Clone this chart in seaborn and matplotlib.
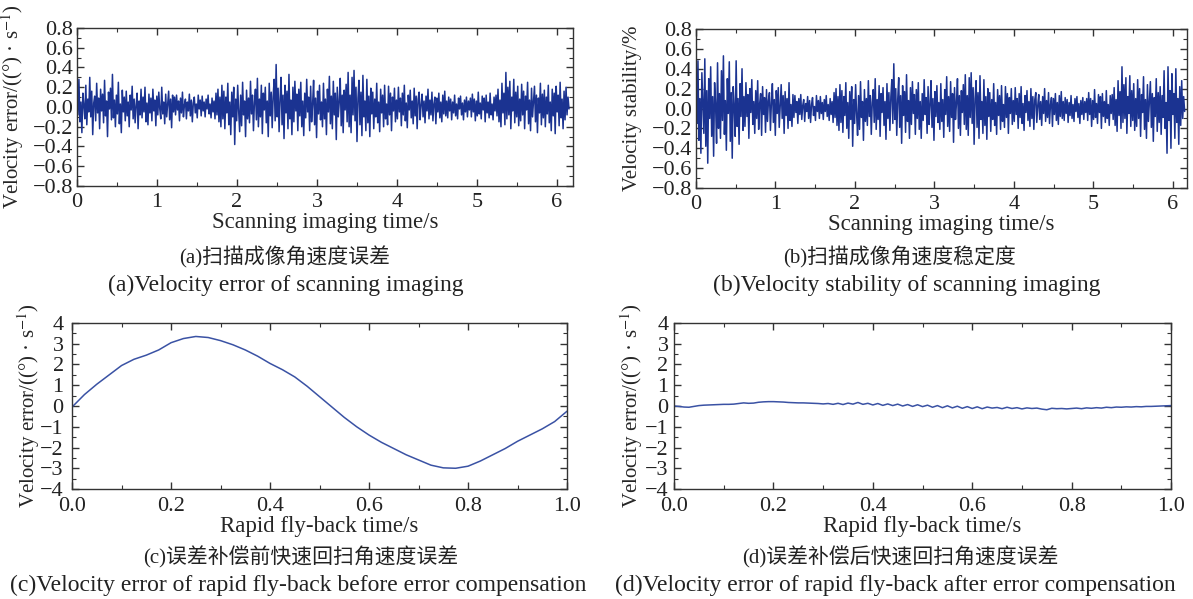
import numpy as np
import pandas as pd
import seaborn as sns
import matplotlib.pyplot as plt
from matplotlib.ticker import MultipleLocator

# (a) velocity error during scanning imaging, deg/s
err_scan = [
    0.12, -0.08, 0.28, -0.15, 0.05, -0.26, 0.14, 0.02, -0.12, 0.22, -0.18, 0.08, -0.05, 0.30, -0.10, 0.16, -0.28, 0.04, 0.11, -0.14, 0.24, -0.06, 0.09, -0.22, 0.18,
    -0.04, 0.13, -0.16, 0.27, -0.09, 0.06, -0.30, 0.15, -0.02, 0.19, -0.13, 0.33, -0.11, 0.07, -0.20, 0.12, -0.07, 0.25, -0.17, 0.03, -0.26, 0.17, -0.05, 0.10, -0.14,
    0.16, -0.09, 0.05, -0.20, 0.12, -0.03, 0.21, -0.12, 0.08, -0.16, 0.02, 0.14, -0.22, 0.06, -0.08, 0.18, -0.11, 0.10, -0.05, 0.20, -0.15, 0.04, -0.18, 0.13, -0.06,
    0.09, -0.14, 0.18, -0.04, 0.07, -0.19, 0.11, -0.08, 0.15, -0.02, -0.12, 0.20, -0.07, 0.05, -0.17, 0.13, -0.10, 0.03, 0.16, -0.13, 0.08, -0.21, 0.12, -0.05, 0.10,
    -0.08, 0.12, -0.03, 0.06, -0.14, 0.09, -0.06, 0.15, -0.10, 0.02, 0.08, -0.12, 0.05, -0.04, 0.13, -0.09, 0.07, -0.15, 0.04, 0.10, -0.06, 0.03, -0.11, 0.12, -0.02,
    0.07, -0.09, 0.11, -0.04, 0.05, -0.10, 0.08, -0.02, 0.12, -0.07, 0.03, -0.11, 0.09, -0.05, 0.06, -0.12, 0.14, -0.08, 0.18, -0.15, 0.10, -0.20, 0.22, -0.12, 0.16,
    -0.22, 0.10, -0.06, 0.24, -0.18, 0.05, -0.28, 0.15, -0.10, 0.20, -0.38, 0.08, -0.14, 0.22, -0.04, -0.25, 0.12, -0.19, 0.25, -0.08, 0.06, -0.30, 0.17, -0.12, 0.09,
    -0.16, 0.26, -0.07, 0.12, -0.24, 0.05, 0.18, -0.13, 0.29, -0.20, 0.08, -0.10, 0.22, -0.27, 0.14, -0.03, 0.20, -0.16, 0.06, -0.30, 0.24, -0.09, 0.15, -0.21, 0.11,
    0.28, -0.14, 0.43, -0.10, 0.19, -0.25, 0.08, 0.30, -0.18, 0.12, -0.32, 0.22, -0.06, 0.16, -0.22, 0.33, -0.12, 0.07, -0.28, 0.20, -0.15, 0.26, -0.04, 0.13, -0.24,
    0.18, -0.09, 0.25, -0.20, 0.06, -0.29, 0.14, -0.11, 0.28, -0.05, 0.10, -0.24, 0.21, -0.15, 0.03, 0.27, -0.18, 0.09, -0.31, 0.16, -0.07, 0.22, -0.13, 0.05, -0.20,
    0.24, -0.12, 0.08, -0.28, 0.18, -0.05, 0.31, -0.17, 0.11, -0.22, 0.26, -0.08, 0.14, -0.33, 0.20, -0.10, 0.05, 0.29, -0.19, 0.12, -0.26, 0.17, -0.03, 0.23, -0.15,
    0.35, -0.20, 0.12, -0.26, 0.30, -0.08, 0.37, -0.14, 0.20, -0.35, 0.09, 0.27, -0.18, 0.15, -0.29, 0.32, -0.10, 0.06, -0.24, 0.28, -0.16, 0.11, -0.30, 0.19, -0.07,
    0.15, -0.22, 0.08, -0.10, 0.24, -0.16, 0.05, -0.25, 0.18, -0.06, 0.12, -0.20, 0.22, -0.12, 0.03, -0.18, 0.21, -0.08, 0.14, -0.24, 0.10, -0.04, 0.19, -0.15, 0.07,
    -0.12, 0.20, -0.05, 0.09, -0.19, 0.14, -0.08, 0.22, -0.14, 0.04, -0.21, 0.12, -0.03, 0.17, -0.11, 0.06, -0.17, 0.19, -0.09, 0.11, -0.22, 0.08, 0.15, -0.13, 0.02,
    0.13, -0.10, 0.06, -0.16, 0.11, -0.04, 0.18, -0.12, 0.07, -0.08, 0.15, -0.14, 0.03, 0.10, -0.17, 0.09, -0.05, 0.14, -0.11, 0.05, -0.15, 0.12, -0.07, 0.16, -0.09,
    0.06, -0.11, 0.10, -0.04, 0.08, -0.13, 0.05, -0.06, 0.12, -0.09, 0.03, -0.12, 0.09, -0.02, 0.11, -0.08, 0.04, -0.13, 0.07, -0.05, 0.10, -0.10, 0.06, -0.03, 0.09,
    -0.10, 0.13, -0.05, 0.08, -0.14, 0.06, -0.09, 0.15, -0.07, 0.04, -0.12, 0.11, -0.03, 0.09, -0.15, 0.12, -0.06, 0.05, -0.11, 0.14, -0.08, 0.03, -0.13, 0.10, -0.04,
    0.12, -0.09, 0.18, -0.15, 0.07, -0.20, 0.24, -0.06, 0.14, -0.18, 0.35, -0.12, 0.20, -0.08, 0.26, -0.22, 0.10, -0.04, 0.28, -0.16, 0.15, -0.10, 0.21, -0.19, 0.08,
    -0.14, 0.23, -0.08, 0.16, -0.22, 0.11, -0.03, 0.25, -0.17, 0.07, -0.24, 0.19, -0.10, 0.05, 0.21, -0.15, 0.12, -0.26, 0.09, -0.06, 0.24, -0.18, 0.13, -0.11, 0.17,
    -0.20, 0.10, -0.07, 0.22, -0.16, 0.05, -0.24, 0.18, -0.09, 0.14, -0.27, 0.21, -0.05, 0.12, -0.19, 0.25, -0.11, 0.08, -0.22, 0.16, -0.13, 0.20, -0.08, 0.10, -0.02,
]

# (b) velocity stability during scanning imaging, %
stab_scan = [
    0.20, -0.15, 0.48, -0.32, 0.10, -0.45, 0.36, 0.05, -0.25, 0.50, -0.38, 0.18, -0.55, 0.30, -0.10, 0.42, -0.28, 0.12, -0.48, 0.26, 0.04, -0.35, 0.46, -0.20, 0.15,
    -0.30, 0.38, -0.12, 0.53, -0.26, 0.08, -0.42, 0.30, -0.05, 0.47, -0.33, 0.16, -0.50, 0.22, 0.02, -0.28, 0.48, -0.18, 0.10, -0.36, 0.25, -0.08, 0.40, -0.22, 0.12,
    -0.18, 0.26, -0.08, 0.14, -0.30, 0.20, -0.04, 0.29, -0.16, 0.07, -0.25, 0.18, -0.10, 0.28, -0.21, 0.05, 0.15, -0.27, 0.22, -0.06, 0.11, -0.24, 0.19, -0.13, 0.08,
    0.16, -0.22, 0.06, 0.25, -0.14, 0.09, -0.27, 0.18, -0.05, 0.21, -0.19, 0.03, 0.24, -0.10, 0.13, -0.25, 0.17, -0.07, 0.10, -0.20, 0.26, -0.12, 0.04, -0.18, 0.14,
    -0.09, 0.13, -0.04, 0.07, -0.15, 0.10, -0.06, 0.14, -0.11, 0.03, 0.09, -0.13, 0.05, -0.03, 0.12, -0.10, 0.08, -0.14, 0.04, 0.11, -0.07, 0.02, -0.12, 0.13, -0.03,
    0.08, -0.10, 0.12, -0.05, 0.06, -0.11, 0.09, -0.03, 0.13, -0.08, 0.04, -0.12, 0.10, -0.06, 0.07, -0.14, 0.16, -0.09, 0.20, -0.17, 0.12, -0.22, 0.24, -0.14, 0.18,
    -0.24, 0.12, -0.07, 0.26, -0.20, 0.06, -0.30, 0.17, -0.11, 0.22, -0.38, 0.09, -0.15, 0.24, -0.05, -0.27, 0.13, -0.21, 0.27, -0.09, 0.07, -0.32, 0.19, -0.13, 0.10,
    -0.17, 0.28, -0.08, 0.13, -0.26, 0.06, 0.19, -0.14, 0.30, -0.21, 0.09, -0.11, 0.23, -0.28, 0.15, -0.04, 0.21, -0.17, 0.07, -0.31, 0.25, -0.10, 0.16, -0.22, 0.12,
    0.29, -0.15, 0.45, -0.11, 0.20, -0.27, 0.09, 0.31, -0.19, 0.13, -0.35, 0.23, -0.07, 0.17, -0.24, 0.34, -0.13, 0.08, -0.30, 0.21, -0.16, 0.27, -0.05, 0.14, -0.26,
    0.19, -0.10, 0.26, -0.21, 0.07, -0.30, 0.15, -0.12, 0.29, -0.06, 0.11, -0.25, 0.22, -0.16, 0.04, 0.28, -0.19, 0.10, -0.32, 0.17, -0.08, 0.23, -0.14, 0.06, -0.21,
    0.25, -0.13, 0.09, -0.29, 0.19, -0.06, 0.32, -0.18, 0.12, -0.23, 0.27, -0.09, 0.15, -0.34, 0.21, -0.11, 0.06, 0.30, -0.20, 0.13, -0.27, 0.18, -0.04, 0.24, -0.16,
    0.34, -0.21, 0.13, -0.27, 0.31, -0.09, 0.36, -0.15, 0.21, -0.36, 0.10, 0.28, -0.19, 0.16, -0.30, 0.33, -0.11, 0.07, -0.25, 0.29, -0.17, 0.12, -0.31, 0.20, -0.08,
    0.16, -0.23, 0.09, -0.11, 0.25, -0.17, 0.06, -0.26, 0.19, -0.07, 0.13, -0.21, 0.23, -0.13, 0.04, -0.19, 0.22, -0.09, 0.15, -0.25, 0.11, -0.05, 0.20, -0.16, 0.08,
    -0.13, 0.21, -0.06, 0.10, -0.20, 0.15, -0.09, 0.22, -0.15, 0.05, -0.22, 0.13, -0.04, 0.18, -0.12, 0.07, -0.18, 0.20, -0.10, 0.12, -0.21, 0.09, 0.16, -0.14, 0.03,
    0.14, -0.11, 0.07, -0.17, 0.12, -0.05, 0.20, -0.13, 0.08, -0.09, 0.16, -0.15, 0.04, 0.11, -0.18, 0.10, -0.06, 0.15, -0.12, 0.06, -0.16, 0.13, -0.08, 0.17, -0.10,
    0.07, -0.12, 0.11, -0.05, 0.09, -0.14, 0.06, -0.07, 0.13, -0.10, 0.04, -0.13, 0.10, -0.03, 0.12, -0.09, 0.05, -0.15, 0.08, -0.06, 0.11, -0.11, 0.07, -0.04, 0.10,
    -0.12, 0.16, -0.06, 0.10, -0.18, 0.08, -0.11, 0.19, -0.09, 0.05, -0.15, 0.14, -0.04, 0.12, -0.20, 0.15, -0.08, 0.07, -0.14, 0.18, -0.10, 0.04, -0.17, 0.13, -0.05,
    0.14, -0.11, 0.21, -0.17, 0.09, -0.23, 0.28, -0.07, 0.17, -0.20, 0.42, -0.14, 0.24, -0.10, 0.31, -0.25, 0.12, -0.05, 0.33, -0.18, 0.18, -0.12, 0.25, -0.22, 0.10,
    -0.18, 0.29, -0.10, 0.20, -0.28, 0.14, -0.04, 0.32, -0.21, 0.09, -0.30, 0.24, -0.13, 0.06, 0.27, -0.19, 0.15, -0.33, 0.11, -0.08, 0.30, -0.23, 0.16, -0.14, 0.22,
    -0.26, 0.13, -0.09, 0.38, -0.20, 0.06, -0.45, 0.42, -0.12, 0.18, -0.40, 0.35, -0.06, 0.15, -0.30, 0.40, -0.14, 0.10, -0.36, 0.22, -0.17, 0.28, -0.10, 0.12, -0.03,
]
scan_end = 6.15

# (c) fly-back velocity error before compensation, sampled every 0.025 s
err_before = [
    -0.05, 0.55, 1.05, 1.5, 1.95, 2.25, 2.45, 2.7, 3.05, 3.25, 3.35, 3.3, 3.15, 2.95,
    2.7, 2.4, 2.05, 1.75, 1.4, 0.95, 0.45, -0.05, -0.55, -1.0, -1.4, -1.75, -2.05,
    -2.35, -2.6, -2.85, -2.98, -3.0, -2.9, -2.65, -2.35, -2.05, -1.7, -1.4, -1.1,
    -0.75, -0.25,
]

# (d) fly-back velocity error after compensation, sampled every 0.01 s
err_after = [
    0.00, -0.02, -0.05, -0.06, -0.02, 0.02, 0.04, 0.05, 0.06, 0.07,
    0.08, 0.08, 0.09, 0.12, 0.15, 0.13, 0.14, 0.18, 0.20, 0.21,
    0.21, 0.20, 0.19, 0.17, 0.16, 0.15, 0.15, 0.14, 0.13, 0.12,
    0.10, 0.12, 0.08, 0.13, 0.07, 0.14, 0.09, 0.17, 0.08, 0.13,
    0.05, 0.12, 0.03, 0.10, 0.02, 0.09, 0.00, 0.07, -0.02, 0.06,
    -0.03, 0.04, -0.06, 0.02, -0.08, 0.01, -0.09, -0.01, -0.11, -0.03,
    -0.12, -0.04, -0.13, -0.05, -0.10, -0.07, -0.13, -0.06, -0.12, -0.08,
    -0.14, -0.09, -0.12, -0.10, -0.15, -0.18, -0.11, -0.13, -0.12, -0.14,
    -0.12, -0.10, -0.13, -0.09, -0.11, -0.08, -0.10, -0.06, -0.08, -0.05,
    -0.06, -0.04, -0.05, -0.03, -0.04, -0.02, -0.02, -0.01, 0.00, 0.01,
    0.02,
]

ylabel_err = 'Velocity error/((°) · s$^{-1}$)'
ylabel_stab = 'Velocity stability/%'
xlabel_scan = 'Scanning imaging time/s'
xlabel_fly = 'Rapid fly-back time/s'
captions_cn = ['(a)扫描成像角速度误差', '(b)扫描成像角速度稳定度',
               '(c)误差补偿前快速回扫角速度误差', '(d)误差补偿后快速回扫角速度误差']
captions_en = ['(a)Velocity error of scanning imaging',
               '(b)Velocity stability of scanning imaging',
               '(c)Velocity error of rapid fly-back before error compensation',
               '(d)Velocity error of rapid fly-back after error compensation']

sns.set_theme(style='ticks')
plt.rcParams['font.family'] = ['Liberation Serif', 'Noto Sans CJK SC']
plt.rcParams['mathtext.fontset'] = 'stix'
plt.rcParams['axes.edgecolor'] = '#333333'
plt.rcParams['axes.linewidth'] = 1.0

fig = plt.figure(figsize=(11.93, 5.99), dpi=100)
ax_a = fig.add_axes([0.0645, 0.6895, 0.4158, 0.2638])
ax_b = fig.add_axes([0.5834, 0.6861, 0.4116, 0.2655])
ax_c = fig.add_axes([0.0604, 0.1836, 0.4149, 0.2772])
ax_d = fig.add_axes([0.5650, 0.1836, 0.4166, 0.2772])

df_a = pd.DataFrame({'t': np.linspace(0, scan_end, len(err_scan)), 'v': err_scan})
df_b = pd.DataFrame({'t': np.linspace(0, scan_end, len(stab_scan)), 'v': stab_scan})
df_c = pd.DataFrame({'t': np.linspace(0, 1, len(err_before)), 'v': err_before})
df_d = pd.DataFrame({'t': np.linspace(0, 1, len(err_after)), 'v': err_after})

sns.lineplot(data=df_a, x='t', y='v', ax=ax_a, color='#1b3391', linewidth=1.1)
sns.lineplot(data=df_b, x='t', y='v', ax=ax_b, color='#1b3391', linewidth=1.1)
sns.lineplot(data=df_c, x='t', y='v', ax=ax_c, color='#3a52a4', linewidth=1.1)
sns.lineplot(data=df_d, x='t', y='v', ax=ax_d, color='#3a52a4', linewidth=1.1)

for ax in (ax_a, ax_b):
    ax.set_ylim(-0.8, 0.8)
    ax.yaxis.set_major_locator(MultipleLocator(0.2))
    ax.yaxis.set_minor_locator(MultipleLocator(0.1))
    ax.xaxis.set_major_locator(MultipleLocator(1))
    ax.xaxis.set_minor_locator(MultipleLocator(0.5))
    ax.yaxis.set_major_formatter(lambda v, p: f'{v:.1f}'.replace('-', '\u2212'))
    ax.set_xlabel(xlabel_scan, fontsize=16.5, labelpad=0)
ax_a.set_xlim(0, 6.2)
ax_b.set_xlim(0, 6.18)
ax_a.set_ylabel(ylabel_err, fontsize=15)
ax_b.set_ylabel(ylabel_stab, fontsize=15)
ax_a.yaxis.set_label_coords(-0.103, 0.5)
ax_b.yaxis.set_label_coords(-0.110, 0.5)

for ax in (ax_c, ax_d):
    ax.set_xlim(0, 1)
    ax.set_ylim(-4, 4)
    ax.yaxis.set_major_locator(MultipleLocator(1))
    ax.yaxis.set_minor_locator(MultipleLocator(0.5))
    ax.xaxis.set_major_locator(MultipleLocator(0.2))
    ax.xaxis.set_minor_locator(MultipleLocator(0.1))
    ax.xaxis.set_major_formatter(lambda v, p: f'{v:.1f}')
    ax.set_xlabel(xlabel_fly, fontsize=16.5, labelpad=0)
    ax.set_ylabel(ylabel_err, fontsize=15)
ax_c.yaxis.set_label_coords(-0.061, 0.5)
ax_d.yaxis.set_label_coords(-0.058, 0.5)

y_pads = {ax_a: 3, ax_b: 3, ax_c: 6, ax_d: 4}
x_pads = {ax_a: 5, ax_b: 5, ax_c: 6, ax_d: 6}
for ax in (ax_a, ax_b, ax_c, ax_d):
    ax.tick_params(which='both', direction='in', top=True, right=True,
                   labelsize=16, color='#333333')
    ax.tick_params(axis='x', pad=x_pads[ax])
    ax.tick_params(axis='y', pad=y_pads[ax])
    ax.tick_params(which='major', length=5, width=1.0)
    ax.tick_params(which='minor', length=3, width=0.8)
    for lab in ax.get_xticklabels() + ax.get_yticklabels():
        lab.set_color('#222222')

cap_x = [285 / 1193, 900 / 1193, 301 / 1193, 900 / 1193]
cap_en_x = [286 / 1193, 907 / 1193, 298 / 1193, 895 / 1193]
cap_cn_y = [1 - 257 / 599, 1 - 257 / 599, 1 - 557 / 599, 1 - 557 / 599]
cap_en_y = [1 - 285 / 599, 1 - 285 / 599, 1 - 585 / 599, 1 - 585 / 599]
for i in range(4):
    fig.text(cap_x[i], cap_cn_y[i], captions_cn[i], ha='center', va='center',
             fontsize=15, color='#222222')
    fig.text(cap_en_x[i], cap_en_y[i], captions_en[i], ha='center', va='center',
             fontsize=17, color='#222222')

fig.savefig('out.png', dpi=100)
